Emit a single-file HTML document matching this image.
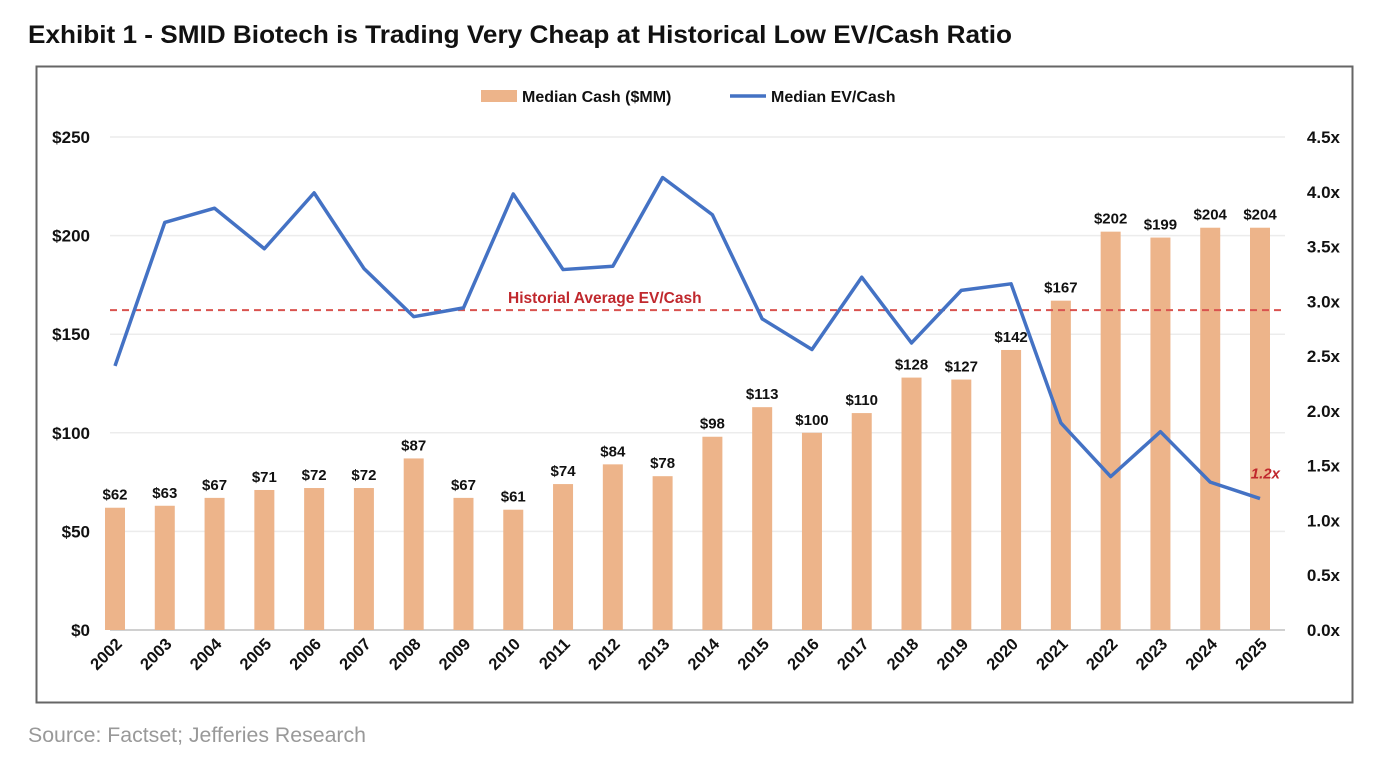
<!DOCTYPE html>
<html><head><meta charset="utf-8"><style>
body{margin:0;background:#fff;width:1376px;height:758px;overflow:hidden;font-family:"Liberation Sans",sans-serif}
svg text{font-family:"Liberation Sans",sans-serif}
</style></head><body>
<svg id="c" width="1376" height="758">
<text x="28" y="43" font-size="25" font-weight="bold" fill="#111" textLength="984" lengthAdjust="spacingAndGlyphs">Exhibit 1 - SMID Biotech is Trading Very Cheap at Historical Low EV/Cash Ratio</text>
<rect x="36.5" y="66.5" width="1316" height="636" fill="#fff" stroke="#666" stroke-width="2"/>
<g id="g"></g>
<text x="28" y="742" font-size="21" fill="#999" textLength="338" lengthAdjust="spacingAndGlyphs">Source: Factset; Jefferies Research</text>
</svg>
<script>
const years=["2002","2003","2004","2005","2006","2007","2008","2009","2010","2011","2012","2013","2014","2015","2016","2017","2018","2019","2020","2021","2022","2023","2024","2025"];
const cash=[62,63,67,71,72,72,87,67,61,74,84,78,98,113,100,110,128,127,142,167,202,199,204,204];
const evCash=[2.41,3.72,3.85,3.48,3.99,3.30,2.86,2.94,3.98,3.29,3.32,4.13,3.79,2.84,2.56,3.22,2.62,3.10,3.16,1.89,1.40,1.81,1.35,1.20];
const histAvg=2.92;
const leftTicks=[0,50,100,150,200,250];
const rightTicks=[0,0.5,1,1.5,2,2.5,3,3.5,4,4.5];
const NS="http://www.w3.org/2000/svg",g=document.getElementById('g');
const y0=630,yTop=137;
const yL=v=>y0-(v/250)*(y0-yTop);
const yR=v=>y0-(v/4.5)*(y0-yTop);
const xC=i=>115+i*(1260-115)/(years.length-1);
function mk(t,a,p){const e=document.createElementNS(NS,t);for(const k in a)e.setAttribute(k,a[k]);(p||g).appendChild(e);return e;}
leftTicks.forEach(v=>{
  const l=mk('line',{x1:110,x2:1285,y1:yL(v),y2:yL(v),stroke:v?'#ececec':'#d0d0d0','stroke-width':v?1.5:2});
  
  
  const t=mk('text',{x:90,y:yL(v)+6,'text-anchor':'end','font-size':17,'font-weight':'bold',fill:'#111'});
  t.textContent='$'+v;
  
  
});
rightTicks.forEach(v=>{
  const t=mk('text',{x:1340,y:yR(v)+6,'text-anchor':'end','font-size':17,'font-weight':'bold',fill:'#111'});
  t.textContent=v.toFixed(1)+'x';
  
  
});
years.forEach((yr,i)=>{
  const x=xC(i);
  const b=mk('rect',{x:x-10,y:yL(cash[i]),width:20,height:y0-yL(cash[i]),fill:'#EDB48A'});
  
  
  const t=mk('text',{x:x,y:yL(cash[i])-8,'text-anchor':'middle','font-size':15,'font-weight':'bold',fill:'#111'});
  t.textContent='$'+cash[i];
  
  
  const xl=mk('text',{x:0,y:0,'text-anchor':'end','font-size':16.5,'font-weight':'bold',fill:'#111',transform:`translate(${x+8},${y0+15}) rotate(-45)`});
  xl.textContent=yr;
  
  
});
const avg=mk('line',{x1:110,x2:1285,y1:yR(histAvg),y2:yR(histAvg),stroke:'#D9534F','stroke-width':2,'stroke-dasharray':'7,5'});


const at=mk('text',{x:508,y:yR(histAvg)-7,'font-size':15.5,'font-weight':'bold',fill:'#C0282D'});
at.textContent='Historial Average EV/Cash';


const ln=mk('polyline',{points:evCash.map((v,i)=>xC(i)+','+yR(v)).join(' '),fill:'none',stroke:'#4472C4','stroke-width':3.5,'stroke-linejoin':'round'});


const last=evCash.length-1;
const lt=mk('text',{x:xC(last)+20,y:yR(evCash[last])-20,'text-anchor':'end','font-size':15,'font-weight':'bold','font-style':'italic',fill:'#C0282D'});
lt.textContent=evCash[last].toFixed(1)+'x';


const l1=mk('rect',{x:481,y:90,width:36,height:12,fill:'#EDB48A'});


const l1t=mk('text',{x:522,y:102,'font-size':16,'font-weight':'bold',fill:'#111'});
l1t.textContent='Median Cash ($MM)';


const l2=mk('line',{x1:730,x2:766,y1:96,y2:96,stroke:'#4472C4','stroke-width':3.5});


const l2t=mk('text',{x:771,y:102,'font-size':16,'font-weight':'bold',fill:'#111'});
l2t.textContent='Median EV/Cash';


</script>
</body></html>
